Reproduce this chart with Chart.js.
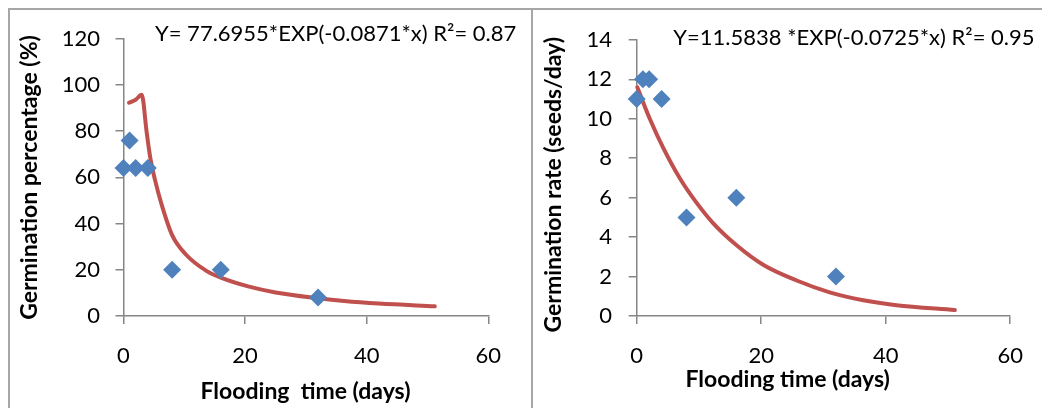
<!DOCTYPE html>
<html>
<head>
<meta charset="utf-8">
<script src="https://cdn.jsdelivr.net/npm/chart.js@4.4.1/dist/chart.umd.min.js"></script>
<style>
  body { margin: 0; width: 1042px; height: 408px; overflow: hidden; position: relative; background: #fff; }
  .panel { position: absolute; top: 8px; height: 420px; border: 2px solid #a6a6a6; border-bottom: none; background: #fff; }
  #p1 { left: 8px; width: 521px; }
  #p2 { left: 533px; width: 520px; border-left: none; border-right: none; }
  canvas { position: absolute; left: 0; top: 0; }
</style>
</head>
<body>
<div class="panel" id="p1"><canvas id="c1" width="521" height="398"></canvas></div>
<div class="panel" id="p2"><canvas id="c2" width="509" height="398"></canvas></div>
<script>
// observed points
const floodDays = [0, 1, 2, 4, 8, 16, 32];
const germPercent = [64, 76, 64, 64, 20, 20, 8];
const germRate = [11, 12, 12, 11, 5, 6, 2];

// fitted curves
const pctCurveX = [0.9, 2.0, 3.0, 3.8, 4.4, 5.2, 6.3, 8.0, 10.3, 13.7, 16, 20.5, 25, 32, 36.3, 42, 51.2];
const pctCurveY = [92.3, 93.6, 95.7, 79.7, 68.5, 58.7, 48, 35, 26.5, 19.4, 16.6, 12.8, 10.2, 7.7, 6.5, 5.4, 4.2];
const rateCurveX = [0.1, 2.1, 4.3, 6.9, 9.6, 12.3, 16.0, 20.3, 25.7, 31, 36.4, 41.7, 51.1];
const rateCurveY = [11.6, 10.0, 8.5, 7.0, 5.75, 4.7, 3.6, 2.6, 1.8, 1.2, 0.8, 0.55, 0.3];

const xMax = 60, xStep = 20;
const pctMax = 120, pctStep = 20;
const rateMax = 14, rateStep = 2;

const FONT = "Lato, 'Open Sans', sans-serif";
const AXIS_GREY = '#868686';

function toPoints(xs, ys) {
    return xs.map((x, i) => ({ x: x, y: ys[i] }));
}

// equation and axis titles, drawn on top of the chart
const extraText = {
    id: 'extraText',
    afterDraw(chart, args, opts) {
        const ctx = chart.ctx;
        ctx.save();
        ctx.fillStyle = '#000';
        ctx.textBaseline = 'alphabetic';
        ctx.font = '22px ' + FONT;
        ctx.textAlign = 'left';
        ctx.fillText(opts.equation, opts.eqX, opts.eqY);

        ctx.font = 'bold 23px ' + FONT;
        ctx.textAlign = 'center';
        ctx.fillText(opts.xTitle, opts.xTitleX, opts.xTitleY);

        ctx.translate(opts.yTitleX, opts.yTitleY);
        ctx.rotate(-Math.PI / 2);
        ctx.fillText(opts.yTitle, 0, 0);
        ctx.restore();
    }
};

function makeChart(id, points, curve, yMax, yStep, cfg) {
    return new Chart(document.getElementById(id), {
        type: 'scatter',
        data: {
            datasets: [
                {
                    data: points,
                    order: 0,
                    pointStyle: 'rectRot',
                    pointRadius: 9,
                    pointHoverRadius: 9,
                    backgroundColor: '#4F81BD',
                    borderWidth: 0,
                    clip: false
                },
                {
                    type: 'line',
                    data: curve,
                    order: 1,
                    borderColor: '#C0504D',
                    borderWidth: 4,
                    borderCapStyle: 'round',
                    pointRadius: 0,
                    cubicInterpolationMode: 'monotone',
                    fill: false,
                    clip: false
                }
            ]
        },
        options: {
            responsive: false,
            animation: false,
            events: [],
            layout: { padding: { left: 0, right: cfg.padRight, top: cfg.padTop, bottom: 0 } },
            plugins: {
                legend: { display: false },
                tooltip: { enabled: false },
                extraText: cfg.text
            },
            scales: {
                x: {
                    type: 'linear',
                    min: 0,
                    max: xMax,
                    ticks: { stepSize: xStep, padding: 19, color: '#000', font: { family: FONT, size: 22 } },
                    grid: { drawOnChartArea: false, drawTicks: true, tickLength: 8, color: AXIS_GREY, lineWidth: 1.5 },
                    border: { display: true, color: AXIS_GREY, width: 1.5 },
                    afterFit(scale) { scale.height = cfg.xHeight; }
                },
                y: {
                    type: 'linear',
                    min: 0,
                    max: yMax,
                    ticks: { stepSize: yStep, padding: cfg.yTickPad, color: '#000', font: { family: FONT, size: 22 } },
                    grid: { drawOnChartArea: false, drawTicks: true, tickLength: 8, color: AXIS_GREY, lineWidth: 1.5 },
                    border: { display: true, color: AXIS_GREY, width: 1.5 },
                    afterFit(scale) { scale.width = cfg.yWidth; }
                }
            }
        },
        plugins: [extraText]
    });
}

makeChart('c1', toPoints(floodDays, germPercent), toPoints(pctCurveX, pctCurveY), pctMax, pctStep, {
    padRight: 42.7, padTop: 21, xHeight: 92, yWidth: 113.5, yTickPad: 15.5,
    text: {
        equation: 'Y= 77.6955*EXP(-0.0871*x) R\u00b2= 0.87', eqX: 145, eqY: 30.7,
        xTitle: 'Flooding  time (days)', xTitleX: 295.5, xTitleY: 389.3,
        yTitle: 'Germination percentage (%)', yTitleX: 27, yTitleY: 167.5
    }
});

makeChart('c2', toPoints(floodDays, germRate), toPoints(rateCurveX, rateCurveY), rateMax, rateStep, {
    padRight: 31.3, padTop: 21.7, xHeight: 92, yWidth: 103.7, yTickPad: 16.7,
    text: {
        equation: 'Y=11.5838 *EXP(-0.0725*x) R\u00b2= 0.95', eqX: 140.3, eqY: 35,
        xTitle: 'Flooding time (days)', xTitleX: 254.7, xTitleY: 377.3,
        yTitle: 'Germination rate (seeds/day)', yTitleX: 28, yTitleY: 174.7
    }
});
</script>
</body>
</html>
